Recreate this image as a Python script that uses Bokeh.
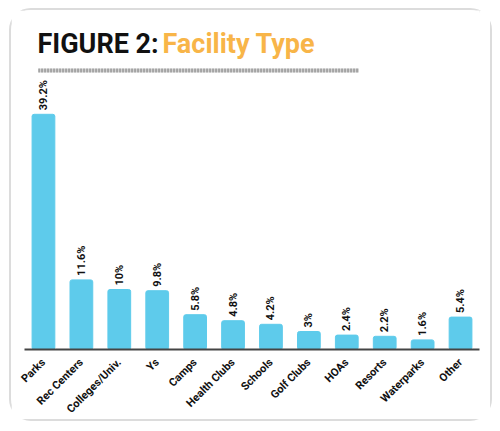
import math
from bokeh.plotting import figure
from bokeh.models import ColumnDataSource, Label
from bokeh.embed import file_html
from bokeh.resources import INLINE
from bokeh.core.properties import value

categories = ["Parks", "Rec Centers", "Colleges/Univ.", "Ys", "Camps", "Health Clubs",
              "Schools", "Golf Clubs", "HOAs", "Resorts", "Waterparks", "Other"]
values = [39.2, 11.6, 10, 9.8, 5.8, 4.8, 4.2, 3, 2.4, 2.2, 1.6, 5.4]
labels = ["39.2%", "11.6%", "10%", "9.8%", "5.8%", "4.8%", "4.2%", "3%", "2.4%", "2.2%", "1.6%", "5.4%"]

src = ColumnDataSource(dict(cat=categories, val=values, lab=labels))

p = figure(x_range=categories, y_range=(0, 56.5), width=483, height=413,
           output_backend="svg", toolbar_location=None,
           min_border_left=13, min_border_right=15, min_border_top=0, min_border_bottom=67)
p.margin = (8, 0, 0, 9)
p.styles = {"border": "2px solid #dcdcdc", "border-radius": "22px"}

p.vbar(x="cat", top="val", width=0.6, source=src, color="#5ECBEB", border_radius=2)
p.text(x="cat", y="val", text="lab", source=src, angle=math.pi / 2, y_offset=-4,
       text_align="left", text_baseline="middle", text_font=value("Roboto"),
       text_font_style="bold", text_font_size="11px", text_color="#111111")

# title
p.add_layout(Label(x=13, y=306, x_units="screen", y_units="screen", text="FIGURE 2:",
                   text_font="Roboto", text_font_style="bold",
                   text_font_size="27px", text_color="#111111", text_baseline="alphabetic"))
p.add_layout(Label(x=138, y=306, x_units="screen", y_units="screen", text="Facility Type",
                   text_font="Roboto", text_font_style="bold",
                   text_font_size="27px", text_color="#F8B548", text_baseline="alphabetic"))
# decorative barcode-like rule under the title
p.line(x=[0.37, 8.82], y=[46.5, 46.5], line_color="#d2d2d2", line_width=4)
p.line(x=[0.37, 8.82], y=[46.5, 46.5], line_color="#7a7a7a", line_width=4, line_dash="1 2")

p.xgrid.visible = False
p.ygrid.visible = False
p.yaxis.visible = False
p.outline_line_color = None
p.xaxis.axis_line_color = "#444444"
p.xaxis.axis_line_width = 2
p.xaxis.major_tick_line_color = None
p.xaxis.minor_tick_line_color = None
p.xaxis.major_label_orientation = math.pi / 4
p.xaxis.major_label_text_font = "Roboto"
p.xaxis.major_label_text_font_style = "bold"
p.xaxis.major_label_text_font_size = "11px"
p.xaxis.major_label_text_color = "#111111"
p.x_range.range_padding = 0

open("out.html", "w").write(file_html(p, INLINE))
